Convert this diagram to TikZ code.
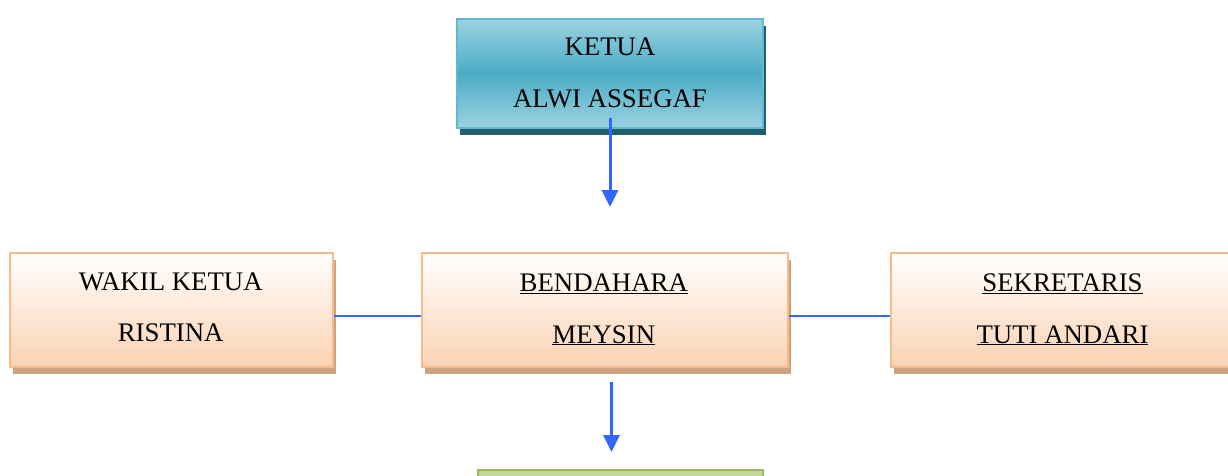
\documentclass[tikz,border=0pt]{standalone}
\usepackage{fontspec}
\setmainfont{Liberation Serif}
\usetikzlibrary{shadows,arrows.meta}
\definecolor{tealmid}{HTML}{4BACC6}
\definecolor{teallight}{HTML}{9CD2E1}
\definecolor{tealdark}{HTML}{215E6E}
\definecolor{tealborder}{HTML}{62B8CF}
\definecolor{peach}{HTML}{FAD2B2}
\definecolor{peachborder}{HTML}{F6BC8C}
\definecolor{peachshadow}{HTML}{CFA27F}
\definecolor{linkblue}{HTML}{3366FF}
\definecolor{greenb}{HTML}{9BBB59}
\definecolor{greenf}{HTML}{C3D69B}
\begin{document}
\begin{tikzpicture}[x=1pt,y=-1pt,
 box/.style={rectangle, inner sep=0pt, line width=1.5pt},
 tealbox/.style={box, draw=tealborder, top color=teallight, bottom color=teallight, middle color=tealmid,
   drop shadow={shadow xshift=3pt, shadow yshift=-7pt, fill=tealdark, opacity=1}},
 peachbox/.style={box, draw=peachborder, top color=white, bottom color=peach,
   drop shadow={shadow xshift=3pt, shadow yshift=-7pt, fill=peachshadow, opacity=1}},
 greenbox/.style={box, draw=greenb, fill=greenf,
   drop shadow={shadow xshift=3pt, shadow yshift=-7pt, fill=greenb!80!black, opacity=1}},
 lbl/.style={anchor=base, inner sep=0pt, font=\fontsize{26.8}{30}\selectfont},
 arr/.style={draw=linkblue, line width=3pt, -{Triangle[length=17pt,width=16pt]}},
 link/.style={draw=linkblue, line width=1.5pt}
]
\useasboundingbox (0,0) rectangle (1228,476);
\clip (0,0) rectangle (1228,476);
% boxes
\node[tealbox, minimum width=306pt, minimum height=109pt] (ketua) at (610,73.5) {};
\node[peachbox, minimum width=323pt, minimum height=114pt] (wakil) at (171.5,310) {};
\node[peachbox, minimum width=366pt, minimum height=114pt] (bend) at (605,310) {};
\node[peachbox, minimum width=343pt, minimum height=114pt] (sek) at (1062.5,310) {};
\node[greenbox, minimum width=285pt, minimum height=100pt] (bawah) at (620.5,520) {};
% texts
\node[lbl] (t1) at (610,55.7) {KETUA};
\node[lbl] (t2) at (610,107.7) {ALWI ASSEGAF};
\node[lbl] (t3) at (170.7,290.7) {WAKIL KETUA};
\node[lbl] (t4) at (170.7,341.7) {RISTINA};
\node[lbl] (t5) at (603.8,291.7) {\underline{BENDAHARA}};
\node[lbl] (t6) at (603.8,343) {\underline{MEYSIN}};
\node[lbl] (t7) at (1062.5,291.7) {\underline{SEKRETARIS}};
\node[lbl] (t8) at (1062.5,343) {\underline{TUTI ANDARI}};
% connectors
\coordinate (a1s) at (610,118);
\coordinate (a1e) at (610,207);
\coordinate (a2s) at (611.5,382);
\coordinate (a2e) at (611.5,452);
\draw[arr] (a1s) -- (a1e);
\draw[arr] (a2s) -- (a2e);
\draw[link] ([yshift=-6pt]wakil.east) -- ([yshift=-6pt]bend.west);
\draw[link] ([yshift=-6pt]bend.east) -- ([yshift=-6pt]sek.west);
\end{tikzpicture}
\end{document}
